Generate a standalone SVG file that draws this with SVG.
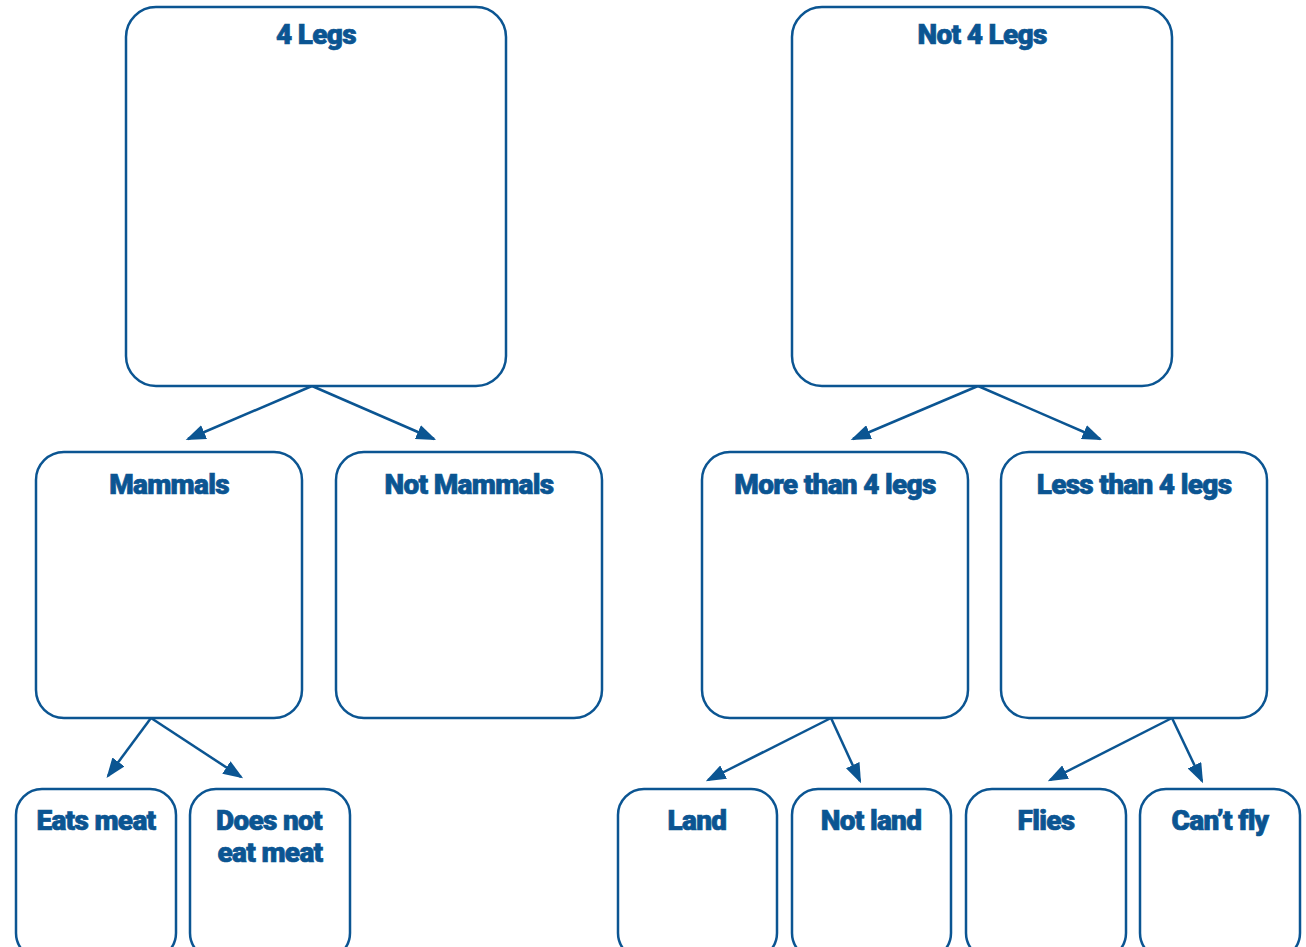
<svg xmlns="http://www.w3.org/2000/svg" width="1306" height="947" viewBox="0 0 1306 947">
<style>
.box{fill:#fff;stroke:#0b5592;stroke-width:2.5}
.t{font-family:Roboto,"Liberation Sans",sans-serif;font-weight:900;font-size:28px;fill:#0b5592;stroke:#0b5592;stroke-width:0.7;text-anchor:middle;letter-spacing:-0.7px}
.c{stroke:#0b5592;stroke-width:2.5;fill:none;marker-end:url(#ah)}
</style>
<defs>
<marker id="ah" markerWidth="8" markerHeight="6" refX="7" refY="3" orient="auto" markerUnits="strokeWidth">
<path d="M0,0 L8,3 L0,6 Z" fill="#0b5592"/>
</marker>
</defs>
<rect width="1306" height="947" fill="#fff"/>
<g id="connectors">
<line class="c" x1="312" y1="386" x2="188" y2="439"/>
<line class="c" x1="312" y1="386" x2="434" y2="439"/>
<line class="c" x1="978" y1="386" x2="853" y2="439"/>
<line class="c" x1="978" y1="386" x2="1100" y2="439"/>
<line class="c" x1="151" y1="718" x2="108" y2="776"/>
<line class="c" x1="151" y1="718" x2="241" y2="777"/>
<line class="c" x1="831" y1="718" x2="708" y2="780"/>
<line class="c" x1="831" y1="718" x2="860" y2="781"/>
<line class="c" x1="1172" y1="718" x2="1050" y2="780"/>
<line class="c" x1="1172" y1="718" x2="1202" y2="781"/>
</g>
<g id="n-4legs"><rect class="box" x="126" y="7" width="380" height="379" rx="30"/><text class="t" x="316" y="44">4 Legs</text></g>
<g id="n-not4legs"><rect class="box" x="792" y="7" width="380" height="379" rx="30"/><text class="t" x="982" y="44">Not 4 Legs</text></g>
<g id="n-mammals"><rect class="box" x="36" y="452" width="266" height="266" rx="28"/><text class="t" x="169" y="494">Mammals</text></g>
<g id="n-notmammals"><rect class="box" x="336" y="452" width="266" height="266" rx="28"/><text class="t" x="469" y="494">Not Mammals</text></g>
<g id="n-more"><rect class="box" x="702" y="452" width="266" height="266" rx="28"/><text class="t" x="835" y="494">More than 4 legs</text></g>
<g id="n-less"><rect class="box" x="1001" y="452" width="266" height="266" rx="28"/><text class="t" x="1134" y="494">Less than 4 legs</text></g>
<g id="n-eats"><rect class="box" x="16" y="789" width="160" height="170" rx="26"/><text class="t" x="96" y="830">Eats meat</text></g>
<g id="n-doesnot"><rect class="box" x="190" y="789" width="160" height="170" rx="26"/><text class="t" x="269" y="830">Does not</text><text class="t" x="270" y="862">eat meat</text></g>
<g id="n-land"><rect class="box" x="618" y="789" width="159" height="170" rx="26"/><text class="t" x="697" y="830">Land</text></g>
<g id="n-notland"><rect class="box" x="792" y="789" width="159" height="170" rx="26"/><text class="t" x="871" y="830">Not land</text></g>
<g id="n-flies"><rect class="box" x="966" y="789" width="160" height="170" rx="26"/><text class="t" x="1046" y="830">Flies</text></g>
<g id="n-cantfly"><rect class="box" x="1140" y="789" width="160" height="170" rx="26"/><text class="t" x="1220" y="830">Can’t fly</text></g>
</svg>
